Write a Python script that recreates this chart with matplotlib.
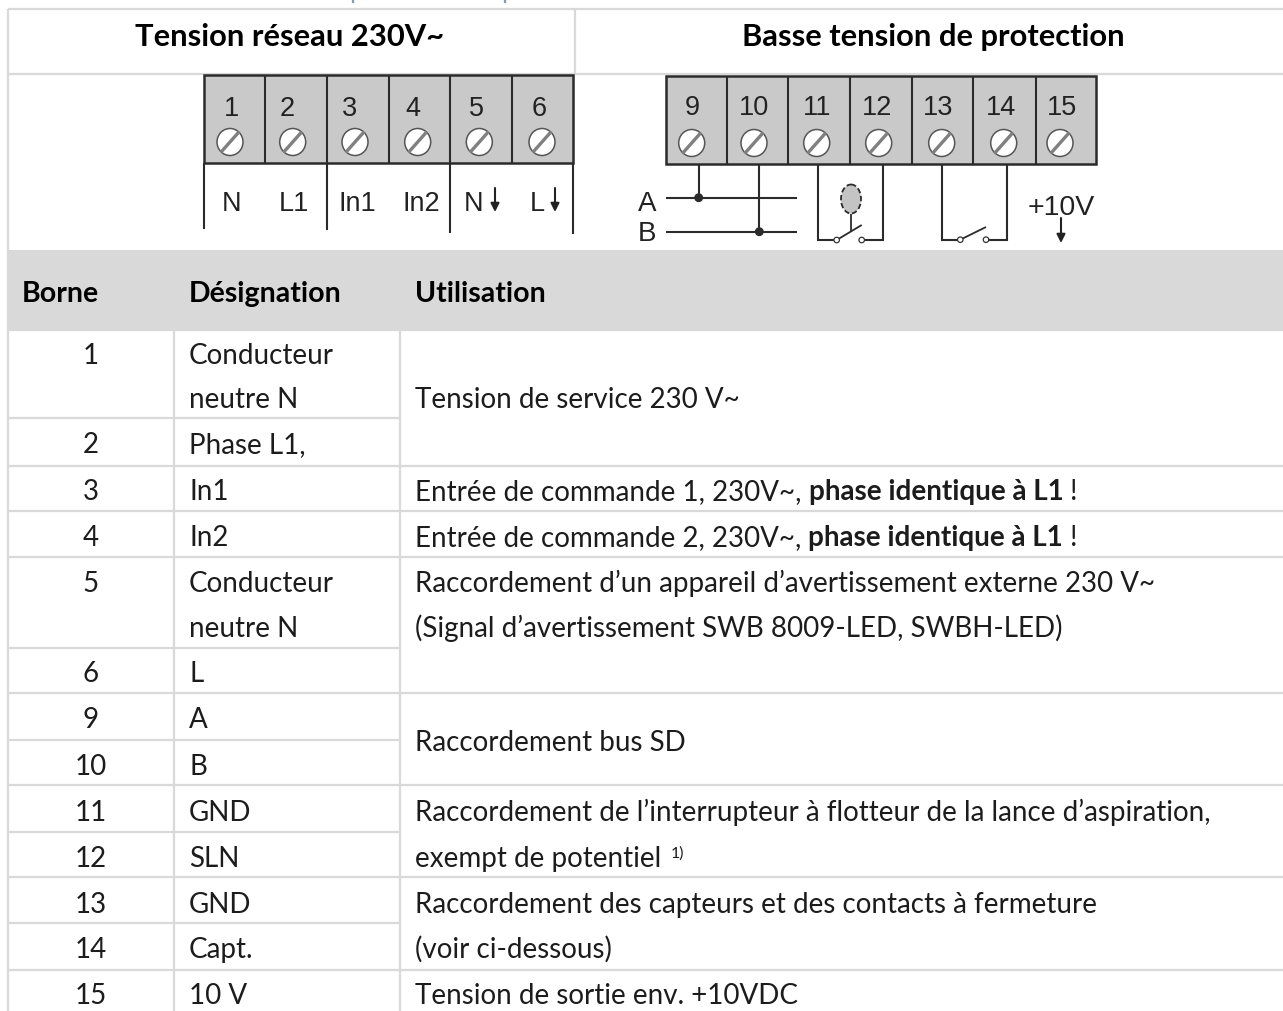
# Terminal table: wiring diagram on top, table of terminals below it.
import matplotlib
matplotlib.use("Agg")
import matplotlib.pyplot as plt
from matplotlib.patches import Rectangle, Ellipse

# Table content
header_titles = ["Tension réseau 230V~", "Basse tension de protection"]
column_titles = ["Borne", "Désignation", "Utilisation"]
borne_labels = ["1", "2", "3", "4", "5", "6", "9", "10", "11", "12", "13", "14", "15"]
designation_labels = ["Conducteur", "Phase L1,", "In1", "In2", "Conducteur", "L", "A", "B",
                      "GND", "SLN", "GND", "Capt.", "10 V"]
neutre_label = "neutre N"
utilisation_plain = ["Tension de service 230 V~",
                     "Raccordement d’un appareil d’avertissement externe 230 V~",
                     "(Signal d’avertissement SWB 8009-LED, SWBH-LED)",
                     "Raccordement bus SD",
                     "Raccordement de l’interrupteur à flotteur de la lance d’aspiration,",
                     "Raccordement des capteurs et des contacts à fermeture",
                     "(voir ci-dessous)",
                     "Tension de sortie env. +10VDC"]
commande_labels = ["Entrée de commande 1, 230V~, ", "Entrée de commande 2, 230V~, "]
commande_bold = "phase identique à L1"
potentiel_label = "exempt de potentiel "
footnote_label = "1)"

# Wiring diagram labels
left_numbers = ["1", "2", "3", "4", "5", "6"]
right_numbers = ["9", "10", "11", "12", "13", "14", "15"]
left_signals = ["N", "L1", "In1", "In2"]

# Layout, in pixels of the picture
left_edges = [204, 265.3, 326.7, 388.7, 450, 511.7, 573.3]
left_screws = [230, 292.7, 355, 417.7, 479.3, 542]
left_number_x = [231.7, 286.7, 350, 412.7, 476, 539]
right_edges = [665.7, 726.7, 788.3, 850, 911.7, 973.3, 1035.7, 1096]
right_screws = [691.7, 754, 816.7, 878.7, 941.7, 1003.7, 1060]
right_number_x = [692, 754, 816.7, 877, 938, 1000.7, 1062]
borne_baselines = [364, 453.3, 500, 546, 591.7, 682, 728, 775, 820.7, 866.7, 912.7, 958, 1004]

GRID = "#d9d9d9"
INK = "#1c1c1c"
WIRE = "#2b2b2b"
BODY = "Lato"
SIZE = 20
TITLE_SIZE = 22.2
COLUMN_SIZE = 20.5
SCHEMA_SIZE = 19.5

plt.rcParams["font.family"] = BODY

fig = plt.figure(figsize=(12.83, 10.12), dpi=100)
ax = fig.add_axes([0, 0, 1, 1])
ax.set_xlim(0, 1283)
ax.set_ylim(1012, 0)
ax.axis("off")


def hline(y, x0=8, x1=1283):
    ax.plot([x0, x1], [y, y], color=GRID, lw=1.6, solid_capstyle="butt", zorder=1)


def vline(x, y0, y1):
    ax.plot([x, x], [y0, y1], color=GRID, lw=1.6, solid_capstyle="butt", zorder=1)


def wire(xs, ys, lw=1.5):
    ax.plot(xs, ys, color=WIRE, lw=lw, solid_capstyle="butt", solid_joinstyle="miter", zorder=4)


def schema_text(x, y, s, size=SCHEMA_SIZE):
    # centre alignment sits a little high for this font, so move it down
    ax.text(x, y + 2.5, s, family="Liberation Sans", fontsize=size, color="#222222",
            ha="center", va="center", zorder=5)


def arrow_down(x, y0, y1):
    ax.annotate("", xy=(x, y1), xytext=(x, y0), zorder=5,
                arrowprops=dict(arrowstyle="-|>,head_width=0.25,head_length=0.5", color="#222222",
                                lw=1.5, shrinkA=0, shrinkB=0))


def terminal_block(edges, screws, number_x, numbers, top, bottom, num_y, screw_y):
    ax.add_patch(Rectangle((edges[0], top), edges[-1] - edges[0], bottom - top,
                           facecolor="#c9c9c9", edgecolor=WIRE, lw=1.8, zorder=3))
    for x in edges[1:-1]:
        wire([x, x], [top, bottom], lw=1.5)
    for x, nx, n in zip(screws, number_x, numbers):
        schema_text(nx, num_y, n)
        ax.add_patch(Ellipse((x, screw_y), 26, 27, facecolor="white", edgecolor="#555555", lw=1.1, zorder=4))
        ax.plot([x - 8, x + 8], [screw_y + 9, screw_y - 9], color="#808080", lw=2.4, zorder=5)


def switch(x0, x1, c0, c1, y, tip_y):
    wire([x0, x0, c0], [165, y, y])
    wire([x1, x1, c1], [165, y, y])
    wire([c0, c1], [y, tip_y], lw=1.3)
    for c in (c0, c1):
        ax.add_patch(Ellipse((c, y), 5.5, 5.5, facecolor="white", edgecolor="#333333", lw=0.9, zorder=5))


# Table grid
hline(10)
hline(75)
hline(331)
for y in [466.7, 511.7, 557.7, 694.3, 786.3, 878.3, 971]:
    hline(y)
for y in [419.3, 649, 740.7, 832.7, 924.3]:
    hline(y, 8, 400)
vline(8, 10, 1012)
vline(575, 10, 75)
vline(174, 331, 1012)
vline(400, 331, 1012)
ax.add_patch(Rectangle((8, 251), 1275, 80, facecolor=GRID, edgecolor="none", zorder=2))

# What is left of the clipped line above the table
ax.plot([353, 353], [0, 3], color="#8a9aa8", lw=1.6)
ax.plot([505, 505], [0, 3], color="#8a9aa8", lw=1.6)

# Left wiring block
terminal_block(left_edges, left_screws, left_number_x, left_numbers, 76, 164, 106, 143)
for x, y1 in zip([204, 326.7, 450, 573.3], [230, 231, 234, 235]):
    wire([x, x], [164, y1])
for x, s in zip([232, 294, 357, 421], left_signals):
    schema_text(x, 201, s)
schema_text(474, 201, "N")
schema_text(537, 201, "L")
arrow_down(495, 189, 213)
arrow_down(555, 189, 213)

# Right wiring block
terminal_block(right_edges, right_screws, right_number_x, right_numbers, 77, 165, 105, 144)
wire([665.7, 797], [198.7, 198.7])
wire([665.7, 797], [232.7, 232.7])
wire([698.7, 698.7], [165, 198.7])
wire([759.3, 759.3], [165, 232.7])
ax.add_patch(Ellipse((698.7, 198.7), 7.5, 7.5, color=WIRE, zorder=5))
ax.add_patch(Ellipse((759.3, 232.7), 7.5, 7.5, color=WIRE, zorder=5))
schema_text(647, 201, "A", size=20)
schema_text(647, 231, "B", size=20)
switch(818, 883, 836.7, 861.7, 241, 226)
switch(942.3, 1007.3, 960.3, 986, 240.7, 228)
ax.add_patch(Ellipse((851, 200), 20, 29, facecolor="#c4c4c4", edgecolor=WIRE, lw=1.3, ls=(0, (3, 1.5)), zorder=4))
wire([851, 851], [215, 232], lw=1.3)
schema_text(1061.5, 205, "+10V", size=20.5)
arrow_down(1061, 219, 244)

# Titles
ax.text(290, 37, header_titles[0], fontsize=TITLE_SIZE, fontweight="bold", color="black", ha="center", va="center", zorder=6)
ax.text(933, 37, header_titles[1], fontsize=TITLE_SIZE, fontweight="bold", color="black", ha="center", va="center", zorder=6)
ax.text(60.5, 302, column_titles[0], fontsize=COLUMN_SIZE, fontweight="bold", color="black", ha="center", va="baseline", zorder=6)
ax.text(189, 302, column_titles[1], fontsize=COLUMN_SIZE, fontweight="bold", color="black", ha="left", va="baseline", zorder=6)
ax.text(415, 302, column_titles[2], fontsize=COLUMN_SIZE, fontweight="bold", color="black", ha="left", va="baseline", zorder=6)


def body(x, y, s, ha="left", weight="normal", size=SIZE):
    return ax.text(x, y, s, fontsize=size, fontweight=weight, color=INK, ha=ha, va="baseline", zorder=6)


# Borne and designation columns
for y, b, d in zip(borne_baselines, borne_labels, designation_labels):
    body(91, y, b, ha="center")
    body(189, y, d)
body(189, 408, neutre_label)
body(189, 636.7, neutre_label)

# Utilisation column
for y, s in zip([408, 591.7, 636.7, 751, 820.7, 912.7, 958, 1004], utilisation_plain):
    body(415, y, s)

renderer = fig.canvas.get_renderer()
for y, s in zip([500, 546], commande_labels):
    t = body(415, y, s)
    x = t.get_window_extent(renderer).x1
    t = body(x, y, commande_bold, weight="bold")
    body(t.get_window_extent(renderer).x1 + 7, y, "!")
t = body(415, 866.7, potentiel_label)
body(t.get_window_extent(renderer).x1 + 2, 858, footnote_label, size=11.5)

fig.savefig("out.png", dpi=100)
